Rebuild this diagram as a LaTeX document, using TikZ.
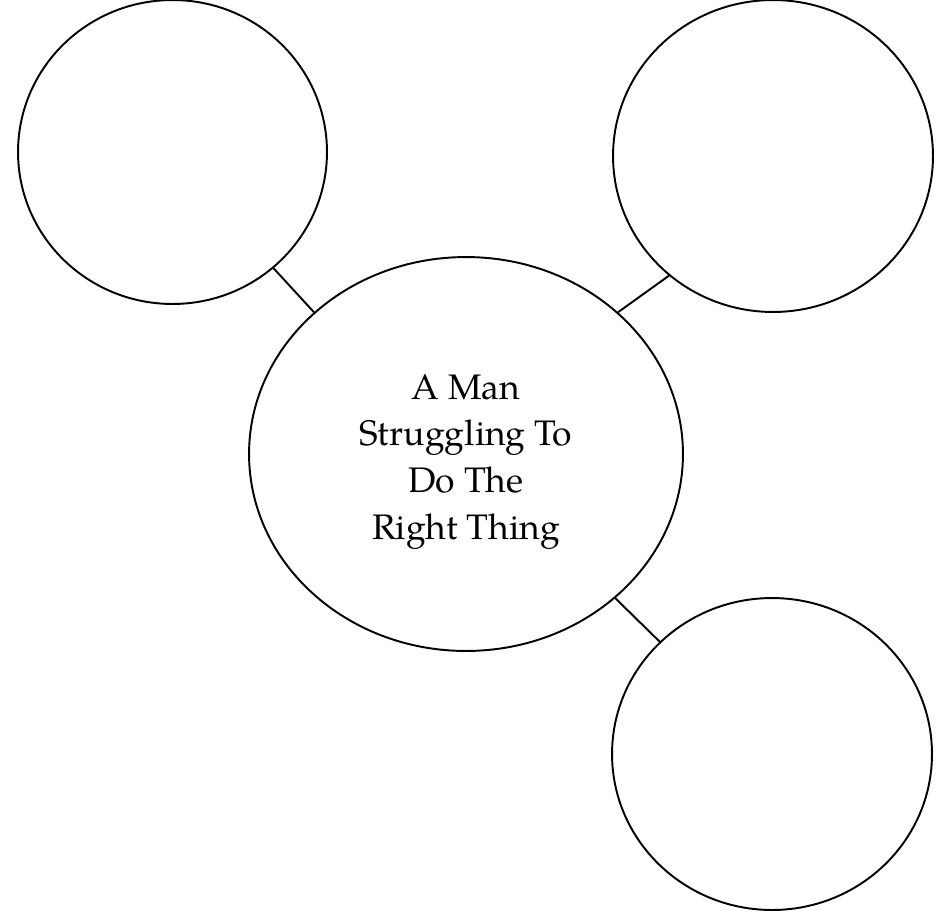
\documentclass[tikz,border=0pt]{standalone}
\usepackage{fontspec}
\setmainfont{TeX Gyre Pagella}
\usepackage{tikz}
\usetikzlibrary{shapes.geometric}

\begin{document}
\begin{tikzpicture}[
    x=0.02cm, y=-0.02cm,
    bubble/.style={
        ellipse, draw=black, line width=1.1pt, fill=white,
        inner sep=0pt, minimum width=#1
    },
    hub/.style={
        ellipse, draw=black, line width=1.1pt, fill=white,
        inner sep=0pt, minimum width=8.68cm, minimum height=7.88cm
    },
    caption/.style={
        align=center, text=black, font=\fontsize{20.2pt}{26.7pt}\selectfont
    },
    link/.style={line width=1.1pt, draw=black}
]
\useasboundingbox (0,0) rectangle (946,910);

\node[hub] (mid) at (466,454) {};
\node[caption] (title) at (466,462) {A Man\\Struggling To\\Do The\\Right Thing};

\node[bubble=6.18cm, minimum height=6.08cm] (nw) at (172.5,152) {};
\node[bubble=6.40cm, minimum height=6.24cm] (ne) at (773,156) {};
\node[bubble=6.40cm, minimum height=6.24cm] (se) at (772,754) {};

\draw[link] (nw.-49.9) -- (mid.137.5);
\draw[link] (ne.229.6) -- (mid.43.6);
\draw[link] (se.135.5) -- (mid.-44.6);

\end{tikzpicture}
\end{document}
